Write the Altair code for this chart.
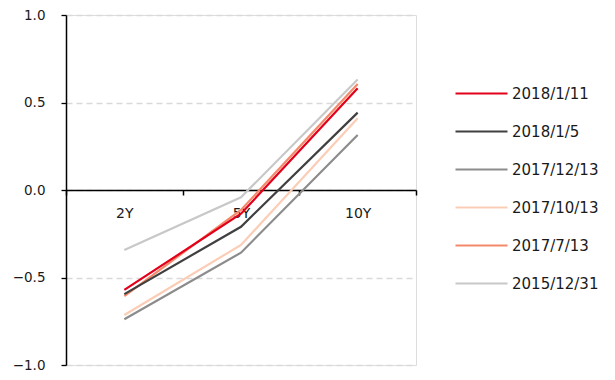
import altair as alt
import pandas as pd

tenors = ["2Y", "5Y", "10Y"]
series_names = ["2018/1/11", "2018/1/5", "2017/12/13", "2017/10/13", "2017/7/13", "2015/12/31"]
series_colors = ["#E2001A", "#404040", "#8C8C8C", "#FBCDB6", "#F4896B", "#C8C8C8"]
values = {
    "2018/1/11": [-0.571, -0.135, 0.581],
    "2018/1/5": [-0.595, -0.210, 0.442],
    "2017/12/13": [-0.739, -0.358, 0.314],
    "2017/10/13": [-0.714, -0.314, 0.410],
    "2017/7/13": [-0.606, -0.114, 0.606],
    "2015/12/31": [-0.343, -0.042, 0.632],
}
y_ticks = [-1.0, -0.5, 0.0, 0.5, 1.0]

rows = []
draw_order = list(reversed(series_names))
for k, name in enumerate(draw_order):
    for t, v in zip(tenors, values[name]):
        rows.append({"tenor": t, "value": v, "series": name, "k": k})
df = pd.DataFrame(rows)

FONT = "DejaVu Sans"

chart = alt.Chart(df).mark_line(strokeWidth=2.2).encode(
    x=alt.X(
        "tenor:N",
        sort=tenors,
        scale=alt.Scale(type="band", paddingInner=0, paddingOuter=0),
        axis=alt.Axis(
            title=None,
            labelAngle=0,
            offset=-175,
            tickBand="extent",
            grid=False,
            domainColor="#000000",
            domainWidth=1.5,
            tickColor="#000000",
            tickWidth=1.5,
            tickSize=5,
            labelPadding=11,
            labelFont=FONT,
            labelFontSize=14,
            labelColor="#1a1a1a",
        ),
    ),
    y=alt.Y(
        "value:Q",
        scale=alt.Scale(domain=[-1, 1], nice=False),
        axis=alt.Axis(
            title=None,
            values=y_ticks,
            format=".1f",
            grid=True,
            gridColor="#D9D9D9",
            gridDash=[6, 4],
            gridWidth=1.4,
            domainColor="#000000",
            domainWidth=1.5,
            tickColor="#000000",
            tickWidth=1.3,
            tickSize=5,
            labelPadding=16,
            labelFont=FONT,
            labelFontSize=13.5,
            labelColor="#1a1a1a",
        ),
    ),
    color=alt.Color(
        "series:N",
        scale=alt.Scale(domain=series_names, range=series_colors),
        legend=alt.Legend(
            title=None,
            orient="none",
            legendX=388,
            legendY=51,
            padding=0,
            symbolType="stroke",
            symbolSize=2704,
            symbolStrokeWidth=2.2,
            labelFont=FONT,
            labelFontSize=15,
            labelColor="#1a1a1a",
            labelOffset=3,
            rowPadding=2,
        ),
    ),
    order=alt.Order("k:Q"),
    detail="series:N",
).properties(
    width=350,
    height=350,
    autosize=alt.AutoSizeParams(type="none"),
    padding={"left": 58, "top": 7, "right": 190, "bottom": 8},
).configure_view(stroke=None).configure(background="#FFFFFF")

chart.save("out.html", embed_options={"renderer": "svg", "actions": False})
